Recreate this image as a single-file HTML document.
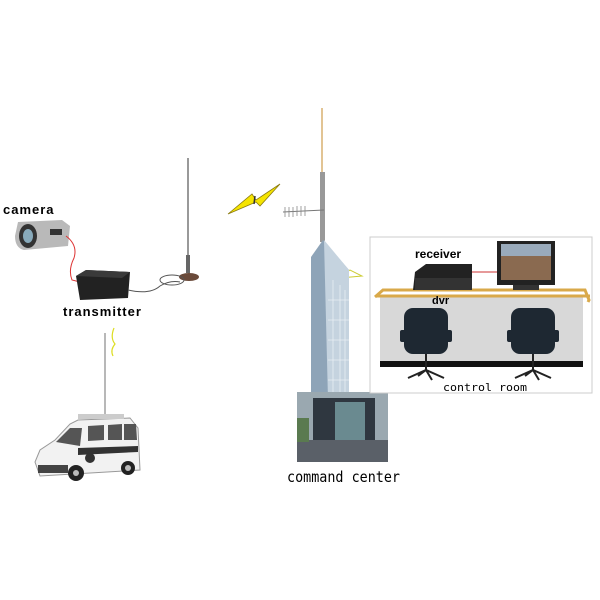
<!DOCTYPE html>
<html><head><meta charset="utf-8"><style>
html,body{margin:0;padding:0;background:#fff;width:600px;height:600px;overflow:hidden}
</style></head><body>
<svg width="600" height="600" viewBox="0 0 600 600" xmlns="http://www.w3.org/2000/svg">
<rect width="600" height="600" fill="#fff"/>
<!-- camera -->
<text x="3" y="214" font-family="Liberation Sans, sans-serif" font-weight="bold" font-size="13" letter-spacing="1">camera</text>
<path d="M18 222 L62 220 L70 226 L68 246 L24 250 Q15 248 15 236 Z" fill="#b9b9b9"/>
<ellipse cx="28" cy="236" rx="9" ry="12" fill="#333"/>
<ellipse cx="28" cy="236" rx="5" ry="7" fill="#8ab"/>
<rect x="50" y="229" width="12" height="6" fill="#333"/>
<!-- red cable -->
<path d="M66 236 Q78 245 74 258 Q68 270 72 280 L80 282" fill="none" stroke="#d33" stroke-width="1"/>
<!-- transmitter -->
<path d="M76 276 L86 270 L130 272 L128 298 L80 300 Z" fill="#222"/>
<path d="M76 276 L86 270 L130 272 L122 278 Z" fill="#3a3a3a"/>
<path d="M128 290 Q150 295 160 286 Q170 280 180 282" fill="none" stroke="#555" stroke-width="1"/>
<text x="63" y="316" font-family="Liberation Sans, sans-serif" font-weight="bold" font-size="13" letter-spacing="1">transmitter</text>
<!-- magnetic antenna -->
<line x1="188" y1="158" x2="188" y2="272" stroke="#777" stroke-width="1.5"/>
<rect x="186" y="255" width="4" height="18" fill="#666"/>
<ellipse cx="189" cy="277" rx="10" ry="4" fill="#6a4a3a"/>
<ellipse cx="172" cy="280" rx="12" ry="5" fill="none" stroke="#555"/>
<!-- lightning bolts -->
<path d="M228 214 L252 194 L256 200 L280 184 L260 206 L256 202 Z" fill="#f5e400" stroke="#8a7a10" stroke-width="0.8"/>
<line x1="255" y1="196" x2="254" y2="204" stroke="#333" stroke-width="1.5"/>
<path d="M114 328 Q110 338 115 344 Q110 350 113 356" fill="none" stroke="#dd2" stroke-width="1.2"/>
<path d="M338 276 L350 270 L362 276 L340 278 Z" fill="none" stroke="#cc3" stroke-width="1"/>
<!-- van antenna -->
<line x1="105" y1="333" x2="105" y2="415" stroke="#888" stroke-width="1.2"/>
<!-- van -->
<path d="M78 420 L130 418 L138 428 L140 470 L40 476 L35 462 L40 450 L55 440 L70 424 Z" fill="#f2f2f2" stroke="#999"/>
<path d="M56 442 L70 428 L82 428 L80 446 Z" fill="#555"/>
<path d="M88 426 L104 425 L104 440 L88 441 Z" fill="#555"/>
<path d="M108 425 L122 424 L122 440 L108 440 Z" fill="#555"/>
<path d="M124 424 L136 424 L137 440 L124 440 Z" fill="#555"/>
<rect x="78" y="414" width="46" height="5" fill="#ccc"/>
<path d="M78 448 L138 446 L138 452 L78 455 Z" fill="#333"/>
<rect x="38" y="465" width="30" height="8" fill="#444"/>
<circle cx="76" cy="473" r="8" fill="#222"/><circle cx="76" cy="473" r="3" fill="#bbb"/>
<circle cx="128" cy="468" r="7" fill="#222"/><circle cx="128" cy="468" r="3" fill="#bbb"/>
<circle cx="90" cy="458" r="5" fill="#333"/>
<!-- tower -->
<line x1="322" y1="108" x2="322" y2="175" stroke="#d8b070" stroke-width="1.5"/>
<rect x="320" y="172" width="5" height="70" fill="#999"/>
<line x1="283" y1="212" x2="324" y2="210" stroke="#777" stroke-width="1"/>
<g stroke="#888" stroke-width="0.8">
<line x1="285" y1="207" x2="285" y2="217"/><line x1="289" y1="207" x2="289" y2="217"/><line x1="293" y1="207" x2="293" y2="217"/><line x1="297" y1="206" x2="297" y2="216"/><line x1="301" y1="206" x2="301" y2="216"/><line x1="305" y1="206" x2="305" y2="216"/>
</g>
<path d="M311 257 L323 240 L349 270 L349 400 L311 400 Z" fill="#8ea4b8"/>
<path d="M324 240 L349 270 L349 400 L328 400 Z" fill="#c5d3df"/>
<g stroke="#e8eef3" stroke-width="0.8">
<line x1="333" y1="280" x2="333" y2="398"/><line x1="340" y1="285" x2="340" y2="398"/><line x1="345" y1="290" x2="345" y2="398"/>
<line x1="328" y1="300" x2="349" y2="300"/><line x1="328" y1="320" x2="349" y2="320"/><line x1="328" y1="340" x2="349" y2="340"/><line x1="328" y1="360" x2="349" y2="360"/><line x1="328" y1="380" x2="349" y2="380"/>
</g>
<rect x="297" y="392" width="91" height="70" fill="#9aa8b0"/>
<rect x="313" y="398" width="62" height="44" fill="#2f3740"/>
<rect x="335" y="402" width="30" height="38" fill="#6a8a90"/>
<rect x="297" y="440" width="91" height="22" fill="#5a6068"/>
<rect x="297" y="418" width="12" height="24" fill="#5a7a50"/>
<text x="287" y="482" font-family="DejaVu Sans Mono, Liberation Mono, monospace" font-size="15" textLength="113" lengthAdjust="spacingAndGlyphs">command center</text>
<!-- control room -->
<rect x="370" y="237" width="222" height="156" fill="#fff" stroke="#ccc"/>
<rect x="380" y="295" width="203" height="68" fill="#d8d8d8"/>
<rect x="380" y="361" width="203" height="6" fill="#111"/>
<path d="M375 297 L383 290 L585 290 L589 300 L588 302" fill="none" stroke="#d9a94a" stroke-width="3"/>
<line x1="376" y1="296" x2="590" y2="296" stroke="#d9a94a" stroke-width="3"/>
<text x="415" y="258" font-family="Liberation Sans, sans-serif" font-weight="bold" font-size="12">receiver</text>
<path d="M415 272 L426 264 L472 264 L472 290 L413 290 Z" fill="#222"/>
<rect x="415" y="278" width="57" height="12" fill="#333"/>
<line x1="472" y1="272" x2="497" y2="272" stroke="#c33" stroke-width="1"/>
<rect x="497" y="241" width="58" height="44" fill="#222"/>
<rect x="501" y="244" width="50" height="36" fill="#8a6a50"/>
<rect x="501" y="244" width="50" height="12" fill="#9ab"/>
<rect x="513" y="285" width="26" height="5" fill="#333"/>
<text x="432" y="304" font-family="Liberation Sans, sans-serif" font-weight="bold" font-size="11">dvr</text>
<g fill="#1e2832">
<rect x="404" y="308" width="44" height="46" rx="9"/>
<rect x="511" y="308" width="44" height="46" rx="9"/>
<rect x="400" y="330" width="6" height="12" rx="2"/>
<rect x="446" y="330" width="6" height="12" rx="2"/>
<rect x="507" y="330" width="6" height="12" rx="2"/>
<rect x="553" y="330" width="6" height="12" rx="2"/>
</g>
<g stroke="#222" stroke-width="2" fill="none">
<path d="M426 354 L426 370 M408 378 L426 370 L444 378 M418 376 L426 370 L432 380"/>
<path d="M533 354 L533 370 M515 378 L533 370 L551 378 M525 376 L533 370 L539 380"/>
</g>
<text x="443" y="391" font-family="DejaVu Sans Mono, Liberation Mono, monospace" font-size="11" textLength="84" lengthAdjust="spacingAndGlyphs">control room</text>
</svg>
</body></html>
